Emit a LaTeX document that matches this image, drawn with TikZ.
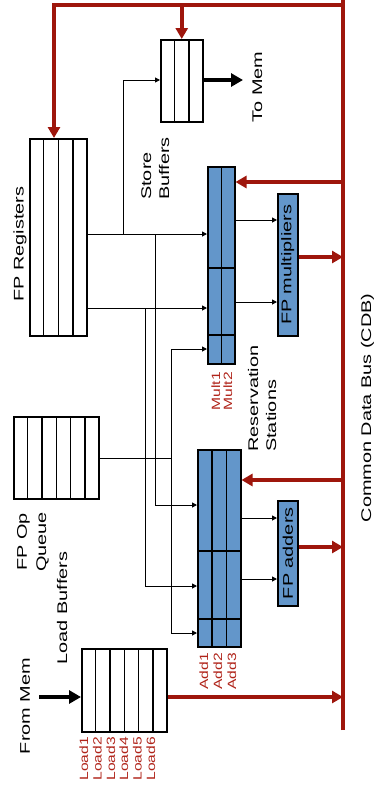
\documentclass[tikz,border=0pt]{standalone}
\usepackage{graphicx}
\usepackage{fontspec}
\setmainfont{Liberation Sans}
\usetikzlibrary{arrows.meta,calc}
\definecolor{cdbred}{RGB}{158,22,12}
\definecolor{labred}{RGB}{176,36,26}
\definecolor{rsblue}{RGB}{99,150,202}
\newcommand{\mainlab}[1]{\fontsize{14}{16}\selectfont\scalebox{1.42}[1]{#1}}
\newcommand{\redlab}[1]{\fontsize{12}{14}\selectfont\scalebox{1.3}[1]{\textcolor{labred}{#1}}}
\begin{document}
\begin{tikzpicture}[x=1pt,y=-1pt,
  box/.style={draw=black, line width=1.5pt, inner sep=0pt, anchor=north west},
  bluebox/.style={box, fill=rsblue},
  div/.style={line width=1.5pt},
  wire/.style={line width=1pt},
  warrow/.style={wire, -{Triangle[length=5pt,width=5pt]}},
  redline/.style={draw=cdbred, line width=3.5pt},
  redarrow/.style={redline, -{Triangle[length=11pt,width=12pt]}},
  memarrow/.style={line width=4.5pt, -{Triangle[length=12pt,width=13pt]}},
  lab/.style={rotate=90, inner sep=0pt}]
\useasboundingbox (0,0) rectangle (374,793);

% ---- boxes ----
\node[box, minimum width=42pt, minimum height=82pt] (sb) at (160,39) {};
\node[box, minimum width=57pt, minimum height=197pt] (fpr) at (29,138) {};
\node[bluebox, minimum width=27pt, minimum height=197pt] (mrs) at (207,166) {};
\node[bluebox, minimum width=20pt, minimum height=142pt] (fpm) at (277,193) {};
\node[box, minimum width=85pt, minimum height=82pt] (opq) at (13,416) {};
\node[bluebox, minimum width=43pt, minimum height=197pt] (ars) at (197,449) {};
\node[bluebox, minimum width=20pt, minimum height=105pt] (fpa) at (277,500) {};
\node[box, minimum width=85pt, minimum height=83pt] (ldb) at (81,648) {};

% ---- dividers ----
\foreach \k in {1,2} \draw[div] ($(sb.north west)!\k/3!(sb.north east)$) -- ($(sb.south west)!\k/3!(sb.south east)$);
\foreach \k in {1,2,3} \draw[div] ($(fpr.north west)!\k/4!(fpr.north east)$) -- ($(fpr.south west)!\k/4!(fpr.south east)$);
\foreach \k in {1,...,5} \draw[div] ($(opq.north west)!\k/6!(opq.north east)$) -- ($(opq.south west)!\k/6!(opq.south east)$);
\foreach \k in {1,...,5} \draw[div] ($(ldb.north west)!\k/6!(ldb.north east)$) -- ($(ldb.south west)!\k/6!(ldb.south east)$);
\draw[div] (mrs.north) -- (mrs.south);
\foreach \yy in {268,335} \draw[div] (mrs.west |- 0,\yy) -- (mrs.east |- 0,\yy);
\foreach \k in {1,2} \draw[div] ($(ars.north west)!\k/3!(ars.north east)$) -- ($(ars.south west)!\k/3!(ars.south east)$);
\foreach \yy in {551,619} \draw[div] (ars.west |- 0,\yy) -- (ars.east |- 0,\yy);

% ---- common data bus ----
\coordinate (cdbT) at (343,0);
\coordinate (cdbB) at (343,730);
\coordinate (busL) at (54,5);
\draw[redline] (cdbB) -- (cdbT);
\draw[redarrow] (cdbT |- busL) -- (busL) -- (busL |- fpr.north);
\draw[redarrow] (sb.north |- busL) -- (sb.north);
\draw[redarrow] (cdbT |- 0,182) -- (mrs.east |- 0,182);
\draw[redarrow] (fpm.east |- 0,257) -- (cdbT |- 0,257);
\draw[redarrow] (cdbT |- 0,480) -- (ars.east |- 0,480);
\draw[redarrow] (fpa.east |- 0,547) -- (cdbT |- 0,547);
\draw[redarrow] (ldb.east |- 0,697) -- (cdbT |- 0,697);

% ---- memory arrows ----
\coordinate (tomemend) at (243,80);
\coordinate (frommem) at (39,697);
\draw[memarrow] (sb.east |- tomemend) -- (tomemend);
\draw[memarrow] (frommem) -- (ldb.west |- frommem);

% ---- black wires ----
\coordinate (j1) at (123,234);
\coordinate (j2) at (155,234);
\coordinate (j3) at (145,308);
\coordinate (j4) at (171,458);
\draw[warrow] (j1) -- (j1 |- 0,80) -- (sb.west |- 0,80);
\draw[warrow] (fpr.east |- j1) -- (mrs.west |- j1);
\draw[warrow] (fpr.east |- j3) -- (mrs.west |- j3);
\draw[warrow] (j2) -- (j2 |- 0,505) -- (ars.west |- 0,505);
\draw[warrow] (j3) -- (j3 |- 0,586) -- (ars.west |- 0,586);
\draw[wire] (opq.east |- j4) -- (j4);
\draw[warrow] (j4 |- 0,349) -- (mrs.west |- 0,349);
\draw[warrow] (j4 |- 0,349) -- (j4 |- 0,633) -- (ars.west |- 0,633);
\draw[warrow] (mrs.east |- 0,220) -- (fpm.west |- 0,220);
\draw[warrow] (mrs.east |- 0,302) -- (fpm.west |- 0,302);
\draw[warrow] (ars.east |- 0,518) -- (fpa.west |- 0,518);
\draw[warrow] (ars.east |- 0,579) -- (fpa.west |- 0,579);

% ---- labels ----
\node[lab] (tfpm) at (fpm.center) {\mainlab{FP multipliers}};
\node[lab] (tfpa) at (fpa.center) {\mainlab{FP adders}};
\node[lab, anchor=base] (ttomem) at (262,87) {\mainlab{To Mem}};
\node[lab, anchor=base west] (tst1) at (151,200) {\mainlab{Store}};
\node[lab, anchor=base west] (tst2) at (169,200) {\mainlab{Buffers}};
\node[lab, anchor=base] (tfpr) at (23.5,244) {\mainlab{FP Registers}};
\node[lab, anchor=base] (tcdb) at (371,408) {\mainlab{Common Data Bus (CDB)}};
\node[lab, anchor=base west] (trs1) at (258,452) {\mainlab{Reservation}};
\node[lab, anchor=base west] (trs2) at (276,452) {\mainlab{Stations}};
\node[lab, anchor=base] (tq1) at (27,542) {\mainlab{FP Op}};
\node[lab, anchor=base] (tq2) at (46,542) {\mainlab{Queue}};
\node[lab, anchor=base] (tlb) at (67,608) {\mainlab{Load Buffers}};
\node[lab, anchor=base] (tfm) at (30,706) {\mainlab{From Mem}};
\node[lab, anchor=base east] (tm1) at (220,372) {\redlab{Mult1}};
\node[lab, anchor=base east] (tm2) at (232,372) {\redlab{Mult2}};
\node[lab, anchor=base east] (ta1) at (208,653) {\redlab{Add1}};
\node[lab, anchor=base east] (ta2) at (222,653) {\redlab{Add2}};
\node[lab, anchor=base east] (ta3) at (236,653) {\redlab{Add3}};
\foreach \i/\xx in {1/88,2/101.5,3/115,4/128,5/141.5,6/155}
  \node[lab, anchor=base east] (tl\i) at (\xx,737) {\redlab{Load\i}};
\end{tikzpicture}
\end{document}
